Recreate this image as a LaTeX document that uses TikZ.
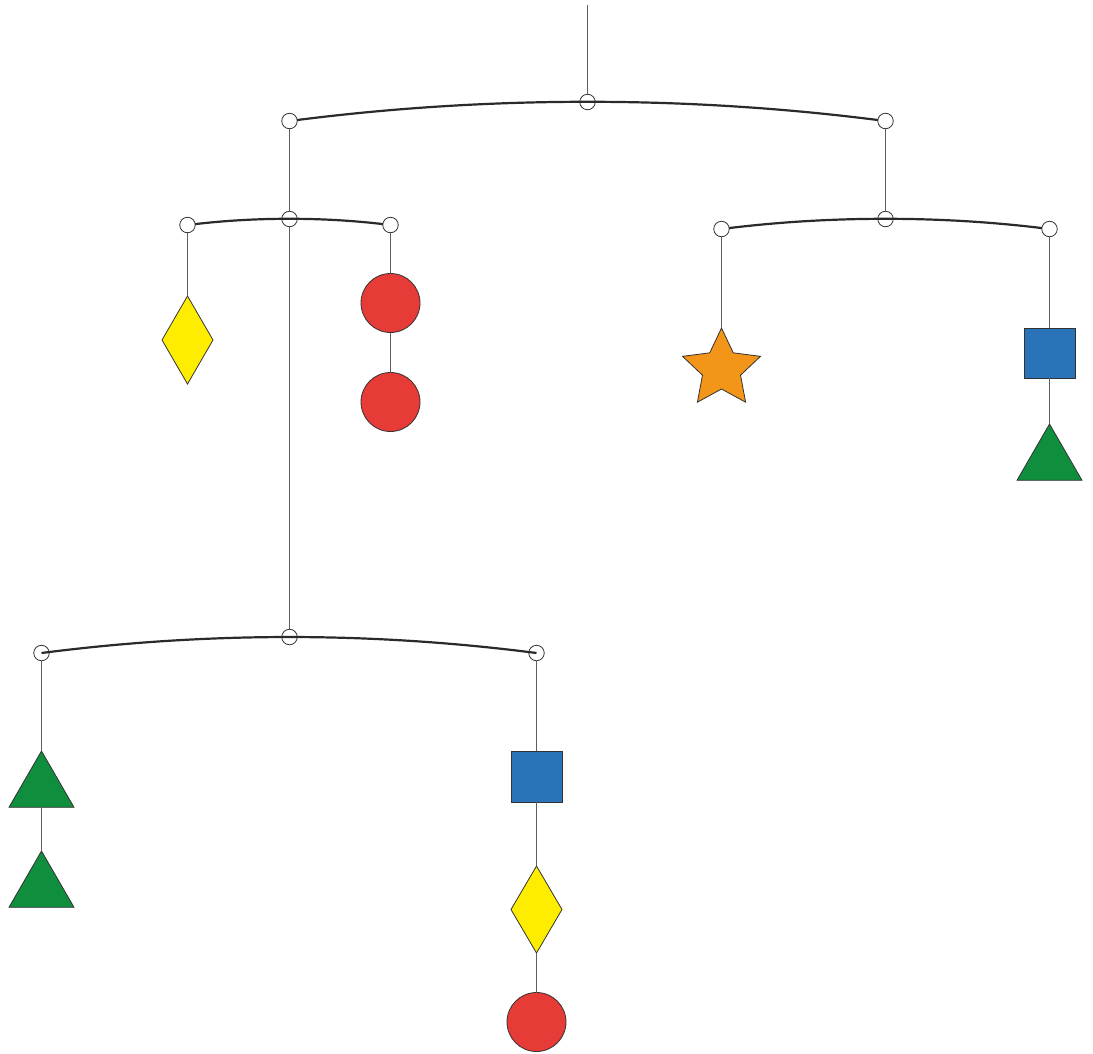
\documentclass[tikz,border=0pt]{standalone}
\usetikzlibrary{shapes.geometric}
\definecolor{myyellow}{HTML}{FFED00}
\definecolor{myred}{HTML}{E63B36}
\definecolor{myorange}{HTML}{F39519}
\definecolor{myblue}{HTML}{2B73B8}
\definecolor{mygreen}{HTML}{0F8E3D}
\definecolor{strcol}{HTML}{5E5E5E}
\definecolor{barcol}{HTML}{2A2A2A}
\definecolor{edgecol}{HTML}{333333}
\tikzset{
  ring/.style={circle,draw=edgecol,line width=0.8pt,minimum size=15.5pt,inner sep=0pt,outer sep=0pt},
  endring/.style={ring,fill=white},
  hangstring/.style={draw=strcol,line width=1pt},
  bar/.style={draw=barcol,line width=2.2pt},
  piece/.style={draw=edgecol,line width=0.8pt,inner sep=0pt,outer sep=0pt},
  diam/.style={piece,diamond,fill=myyellow,minimum width=51pt,minimum height=88pt},
  ball/.style={piece,circle,fill=myred,minimum size=59pt},
  starpiece/.style={piece,star,star points=5,star point ratio=2.05,fill=myorange,minimum size=82pt},
  sqpiece/.style={piece,rectangle,fill=myblue,minimum width=51pt,minimum height=51pt},
  tri/.style={piece,regular polygon,regular polygon sides=3,fill=mygreen,minimum size=75pt}
}
\begin{document}
\begin{tikzpicture}[x=1pt,y=-1pt]
\useasboundingbox (0,0) rectangle (1093,1053);
% rings
\coordinate (hook) at (587.5,5);
\node[ring] (r0) at (587.5,102) {};
\node[endring] (r0L) at (289.5,121) {};
\node[endring] (r0R) at (885.5,121) {};
\node[ring] (r1) at (289.5,219) {};
\node[endring] (r1L) at (187.5,225) {};
\node[endring] (r1R) at (390.5,225) {};
\node[ring] (r2) at (885.5,219) {};
\node[endring] (r2L) at (721.5,229) {};
\node[endring] (r2R) at (1049.5,229) {};
\node[ring] (r3) at (289.5,637) {};
\node[ring] (r3L) at (41.5,653) {};
\node[ring] (r3R) at (536.5,653) {};
% pieces
\node[diam] (d1) at (187.5,340) {};
\node[ball] (c1) at (390.5,303) {};
\node[ball] (c2) at (390.5,402) {};
\node[starpiece] (st) at (721.5,369) {};
\node[sqpiece,minimum height=50pt] (sq1) at (1049.5,353) {};
\node[tri] (t1) at (1049.5,461.5) {};
\node[tri] (t2) at (41.5,788.5) {};
\node[tri] (t3) at (41.5,888.5) {};
\node[sqpiece] (sq2) at (536.5,776.5) {};
\node[diam,minimum height=87pt] (d2) at (536.5,909.5) {};
\node[ball] (c3) at (536.5,1022) {};
% strings
\draw[hangstring] (hook) -- (r0);
\draw[hangstring] (r0L) -- (r1);
\draw[hangstring] (r0R) -- (r2);
\draw[hangstring] (r1) -- (r3);
\draw[hangstring] (r1L) -- (d1.north);
\draw[hangstring] (r1R) -- (c1.north);
\draw[hangstring] (c1.south) -- (c2.north);
\draw[hangstring] (r2L) -- (st.north);
\draw[hangstring] (r2R) -- (sq1.north);
\draw[hangstring] (sq1.south) -- (t1.north);
\draw[hangstring] (r3L) -- (t2.north);
\draw[hangstring] (t2.south) -- (t3.north);
\draw[hangstring] (r3R) -- (sq2.north);
\draw[hangstring] (sq2.south) -- (d2.north);
\draw[hangstring] (d2.south) -- (c3.north);
% bars
\draw[bar] (r0L) .. controls +(198.7,-25.3) and +(-198.7,-25.3) .. (r0R);
\draw[bar] (r1L) .. controls +(68.3,-8) and +(-67.7,-8) .. (r1R);
\draw[bar] (r2L) .. controls +(109.3,-13.3) and +(-109.3,-13.3) .. (r2R);
\draw[bar] (r3L.center) .. controls +(165,-21.3) and +(-165,-21.3) .. (r3R.center);
\end{tikzpicture}
\end{document}
